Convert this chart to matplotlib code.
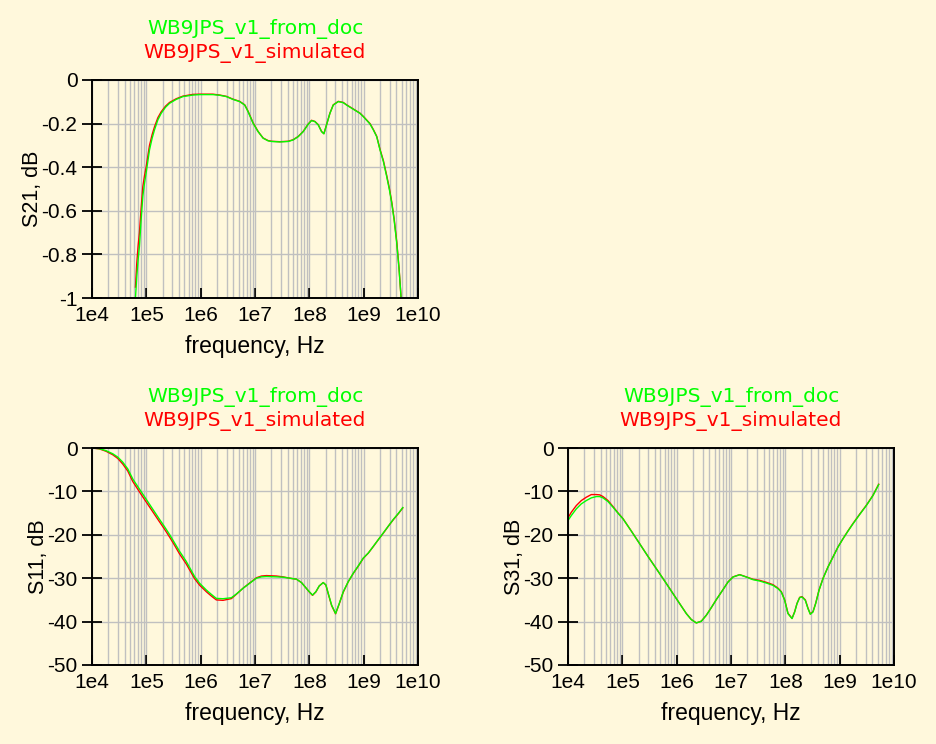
import numpy as np
import matplotlib.pyplot as plt
from matplotlib.ticker import LogLocator, NullFormatter

plt.rcParams['font.family'] = ['Liberation Sans', 'DejaVu Sans']

# S21 (dB), log10(frequency)
s21_logf = [4.800, 4.824, 4.849, 4.873, 4.904, 4.935, 4.966, 4.996, 5.027, 5.058, 5.107, 5.150,
            5.212, 5.273, 5.353, 5.427, 5.550, 5.673, 5.857, 5.980, 6.226, 6.349, 6.472, 6.595,
            6.718, 6.811, 6.872, 6.964, 7.057, 7.149, 7.241, 7.303, 7.456, 7.610, 7.702, 7.795,
            7.887, 7.979, 8.041, 8.102, 8.164, 8.225, 8.268, 8.317, 8.379, 8.440, 8.533, 8.625,
            8.686, 8.809, 8.932, 8.994, 9.117, 9.178, 9.240, 9.301, 9.363, 9.424, 9.474, 9.517,
            9.560, 9.609, 9.652, 9.689]
s21_doc = [-1.0, -0.901, -0.824, -0.763, -0.641, -0.534, -0.473, -0.427, -0.374, -0.321, -0.267,
           -0.229, -0.183, -0.153, -0.125, -0.107, -0.089, -0.076, -0.069, -0.067, -0.067, -0.070,
           -0.076, -0.089, -0.099, -0.115, -0.145, -0.198, -0.237, -0.267, -0.279, -0.282, -0.284,
           -0.282, -0.275, -0.260, -0.237, -0.203, -0.186, -0.191, -0.206, -0.237, -0.247, -0.206,
           -0.153, -0.115, -0.099, -0.104, -0.115, -0.134, -0.153, -0.168, -0.202, -0.229, -0.260,
           -0.321, -0.374, -0.443, -0.504, -0.565, -0.641, -0.748, -0.870, -1.0]
s21_sim = [-0.95, -0.84, -0.76, -0.70, -0.59, -0.49, -0.44, -0.40, -0.35, -0.30, -0.25, -0.215,
           -0.173, -0.146, -0.120, -0.103, -0.086, -0.074, -0.066, -0.065, -0.065, -0.069,
           -0.075, -0.088, -0.098, -0.114, -0.143, -0.196, -0.236, -0.266, -0.278, -0.281, -0.283,
           -0.281, -0.274, -0.259, -0.236, -0.202, -0.185, -0.190, -0.205, -0.236, -0.246, -0.205,
           -0.152, -0.114, -0.098, -0.103, -0.114, -0.133, -0.152, -0.167, -0.200, -0.227, -0.258,
           -0.318, -0.370, -0.438, -0.498, -0.560, -0.635, -0.742, -0.865, -1.0]

# S11 (dB)
s11_logf = [4.000, 4.135, 4.258, 4.381, 4.474, 4.566, 4.658, 4.750, 4.873, 4.996, 5.119, 5.242,
            5.335, 5.427, 5.519, 5.611, 5.734, 5.888, 5.980, 6.103, 6.196, 6.288, 6.411, 6.565,
            6.657, 6.780, 6.903, 7.026, 7.118, 7.210, 7.395, 7.518, 7.641, 7.764, 7.856, 7.918,
            7.998, 8.059, 8.121, 8.182, 8.256, 8.305, 8.348, 8.410, 8.483, 8.551, 8.625, 8.717,
            8.809, 8.902, 8.994, 9.086, 9.178, 9.271, 9.363, 9.455, 9.547, 9.640, 9.720]
s11_doc = [0.0, -0.16, -0.62, -1.32, -2.09, -3.26, -4.81, -7.13, -9.46, -11.78, -14.11, -16.43,
           -18.14, -19.92, -21.86, -23.80, -26.12, -29.61, -31.16, -32.71, -33.72, -34.65, -34.73,
           -34.50, -33.64, -32.33, -31.16, -30.00, -29.69, -29.61, -29.69, -29.77, -30.00, -30.23,
           -31.01, -31.94, -33.10, -33.88, -33.10, -31.78, -31.01, -31.55, -33.49, -36.20, -38.14,
           -35.81, -33.10, -30.78, -28.84, -27.13, -25.35, -24.19, -22.64, -21.09, -19.53, -17.98,
           -16.43, -15.04, -13.72]
s11_sim = [0.0, -0.2, -0.75, -1.55, -2.4, -3.7, -5.3, -7.7, -10.1, -12.4, -14.7, -17.0,
           -18.7, -20.5, -22.4, -24.4, -26.7, -30.1, -31.6, -33.1, -34.1, -35.0, -35.1,
           -34.7, -33.7, -32.3, -31.1, -29.9, -29.5, -29.4, -29.5, -29.7, -30.0, -30.23,
           -31.01, -31.94, -33.15, -33.95, -33.15, -31.8, -31.0, -31.6, -33.6, -36.3, -38.2,
           -35.9, -33.2, -30.8, -28.9, -27.2, -25.4, -24.2, -22.7, -21.1, -19.6, -18.0,
           -16.5, -15.1, -13.8]

# S31 (dB)
s31_logf = [4.000, 4.061, 4.153, 4.245, 4.337, 4.429, 4.521, 4.583, 4.644, 4.736, 4.828, 4.920,
            5.012, 5.166, 5.319, 5.472, 5.626, 5.779, 5.933, 6.055, 6.178, 6.270, 6.362, 6.454,
            6.546, 6.638, 6.730, 6.853, 6.945, 7.037, 7.160, 7.282, 7.405, 7.528, 7.650, 7.773,
            7.865, 7.926, 7.988, 8.049, 8.123, 8.172, 8.215, 8.264, 8.307, 8.368, 8.417, 8.460,
            8.509, 8.558, 8.620, 8.693, 8.785, 8.877, 8.969, 9.061, 9.153, 9.245, 9.368, 9.491,
            9.613, 9.718]
s31_doc = [-16.70, -15.56, -14.02, -12.87, -12.11, -11.49, -11.19, -11.19, -11.49, -12.34, -13.64,
           -15.02, -16.32, -19.16, -22.07, -24.98, -27.82, -30.65, -33.56, -35.86, -38.16, -39.54,
           -40.31, -39.92, -38.54, -36.78, -34.94, -32.64, -30.88, -29.73, -29.20, -29.73, -30.34,
           -30.65, -31.11, -31.65, -32.41, -33.18, -35.10, -38.16, -39.31, -37.78, -35.86, -34.48,
           -34.33, -35.10, -37.01, -38.31, -37.78, -35.86, -32.80, -30.11, -27.43, -25.13, -22.84,
           -20.92, -19.16, -17.47, -15.33, -13.26, -10.96, -8.43]
s31_sim = [-16.09, -14.80, -13.26, -12.11, -11.34, -10.73, -10.73, -10.80, -11.19, -12.11, -13.49,
           -14.95, -16.28, -19.14, -22.05, -24.97, -27.81, -30.64, -33.55, -35.85, -38.15, -39.53,
           -40.30, -39.90, -38.52, -36.76, -34.92, -32.62, -30.86, -29.70, -29.18, -29.70, -30.25,
           -30.50, -30.95, -31.50, -32.30, -33.10, -35.00, -38.10, -39.25, -37.70, -35.80, -34.40,
           -34.25, -35.00, -36.90, -38.25, -37.70, -35.80, -32.75, -30.05, -27.40, -25.10, -22.80,
           -20.90, -19.10, -17.40, -15.25, -13.20, -10.90, -8.35]

xticks = [1e4, 1e5, 1e6, 1e7, 1e8, 1e9, 1e10]
xlabels = ['1e4', '1e5', '1e6', '1e7', '1e8', '1e9', '1e10']

bg = '#fff8dc'
grid_c = '#c0c0c0'
fig = plt.figure(figsize=(9.37, 7.44), dpi=100, facecolor=bg)


def make_ax(rect, logf, doc, sim, ylim, yticks, ylabels, ylabel):
    ax = fig.add_axes(rect, facecolor=bg)
    f = 10 ** np.array(logf)
    ax.plot(f, sim, color='#ff0000', lw=1.0)
    ax.plot(f, doc, color='#00ff00', lw=1.0)
    ax.set_xscale('log')
    ax.set_xlim(1e4, 1e10)
    ax.set_ylim(*ylim)
    ax.set_xticks(xticks)
    ax.set_xticklabels(xlabels)
    ax.set_yticks(yticks)
    ax.set_yticklabels(ylabels)
    ax.xaxis.set_minor_locator(LogLocator(base=10, subs=np.arange(2, 10), numticks=100))
    ax.xaxis.set_minor_formatter(NullFormatter())
    ax.grid(True, which='major', color=grid_c, lw=1.0)
    ax.grid(True, which='minor', axis='x', color=grid_c, lw=1.0)
    ax.set_axisbelow(True)
    ax.tick_params(axis='x', which='major', direction='in', length=7, width=1.3,
                   labelsize=15, top=False, pad=6)
    ax.tick_params(axis='y', which='major', direction='inout', length=15, width=1.3,
                   labelsize=15, right=False, pad=3)
    ax.tick_params(which='minor', length=0)
    for s in ax.spines.values():
        s.set_linewidth(1.4)
    ax.set_xlabel('frequency, Hz', fontsize=16.5, labelpad=7)
    ax.set_ylabel(ylabel, fontsize=15.5, labelpad=-1)
    cx = rect[0] + rect[2] / 2
    top = rect[1] + rect[3]
    fig.text(cx, top + 51 / 744, 'WB9JPS_v1_from_doc', color='#00ff00', fontsize=14.5,
             family='DejaVu Sans', ha='center', va='center')
    fig.text(cx, top + 27 / 744, 'WB9JPS_v1_simulated', color='#ff0000', fontsize=14.5,
             family='DejaVu Sans', ha='center', va='center')
    return ax


W, H = 937, 744
r1 = [92 / W, 1 - 298 / H, 326 / W, 218 / H]
r2 = [92 / W, 1 - 665 / H, 326 / W, 217 / H]
r3 = [568 / W, 1 - 665 / H, 326 / W, 217 / H]

make_ax(r1, s21_logf, s21_doc, s21_sim, (-1, 0), [0, -0.2, -0.4, -0.6, -0.8, -1],
        ['0', '-0.2', '-0.4', '-0.6', '-0.8', '-1'], 'S21, dB')
db = [0, -10, -20, -30, -40, -50]
make_ax(r2, s11_logf, s11_doc, s11_sim, (-50, 0), db, [str(d) for d in db], 'S11, dB')
make_ax(r3, s31_logf, s31_doc, s31_sim, (-50, 0), db, [str(d) for d in db], 'S31, dB')

fig.savefig('out.png', dpi=100, facecolor=bg)
